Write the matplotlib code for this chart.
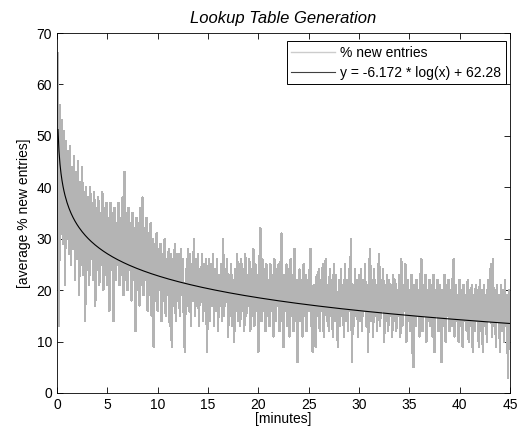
import numpy as np
import matplotlib
matplotlib.use("Agg")
import matplotlib.pyplot as plt

plt.rcParams['font.family'] = ['Liberation Sans', 'DejaVu Sans']

# sample times, one sample every 0.1 minute (6 s)
t_step = 0.1
# % new entries (one row = 3 minutes)
new_entries = [
    66, 13, 56, 31, 53, 29, 51, 21, 49, 30, 47, 27, 48, 25, 44, 28, 46, 22, 43, 26, 45, 19, 41, 25, 44, 23, 39, 14, 40, 24,
    38, 21, 40, 26, 37, 22, 39, 17, 36, 24, 38, 21, 35, 25, 39, 20, 36, 23, 37, 21, 34, 16, 37, 24, 35, 14, 36, 22, 33, 25,
    37, 21, 34, 23, 38, 19, 43, 22, 35, 20, 36, 24, 33, 18, 35, 22, 32, 12, 34, 20, 33, 17, 36, 21, 38, 19, 32, 22, 34, 16,
    31, 19, 33, 15, 30, 9, 29, 18, 31, 16, 28, 20, 29, 14, 27, 18, 30, 15, 26, 19, 28, 13, 27, 9, 26, 17, 29, 14, 27, 18,
    27, 15, 28, 19, 26, 14, 8, 24, 17, 28, 16, 27, 13, 25, 18, 30, 15, 26, 17, 27, 13, 24, 18, 27, 14, 25, 16, 26, 8, 22,
    26, 14, 25, 17, 27, 13, 24, 16, 26, 12, 23, 17, 25, 14, 30, 15, 24, 18, 26, 11, 23, 15, 25, 13, 22, 10, 24, 16, 27, 14,
    25, 13, 26, 16, 24, 12, 27, 15, 23, 17, 26, 12, 24, 15, 28, 13, 25, 16, 23, 8, 24, 32, 14, 26, 16, 24, 12, 25, 15, 22,
    13, 25, 16, 23, 11, 26, 14, 24, 17, 25, 12, 24, 31, 15, 9, 23, 16, 25, 13, 24, 11, 26, 15, 23, 12, 28, 14, 22, 6, 21,
    24, 14, 22, 11, 25, 15, 23, 12, 22, 16, 24, 28, 13, 8, 21, 14, 9, 23, 15, 24, 12, 22, 16, 25, 11, 23, 26, 14, 21, 12,
    24, 15, 22, 11, 25, 14, 23, 16, 9, 22, 13, 24, 15, 21, 11, 25, 14, 22, 12, 24, 16, 30, 6, 21, 13, 24, 15, 22, 11, 23,
    14, 24, 12, 22, 16, 25, 13, 21, 8, 23, 28, 14, 22, 11, 24, 15, 21, 12, 23, 27, 13, 22, 16, 24, 10, 21, 14, 23, 12, 22,
    15, 21, 11, 23, 14, 22, 12, 20, 15, 23, 11, 26, 13, 21, 16, 25, 10, 22, 14, 20, 12, 23, 9, 5, 21, 13, 22, 15, 20, 11,
    22, 26, 12, 21, 15, 23, 10, 20, 14, 22, 13, 21, 11, 23, 8, 20, 15, 22, 12, 21, 14, 6, 20, 13, 23, 10, 21, 15, 22, 12,
    20, 13, 22, 26, 11, 21, 14, 19, 10, 22, 13, 20, 9, 21, 14, 19, 12, 22, 10, 20, 13, 21, 8, 19, 12, 21, 14, 20, 9, 22,
    12, 20, 8, 21, 13, 19, 10, 22, 14, 20, 25, 11, 26, 13, 20, 9, 21, 14, 19, 8, 21, 12, 20, 10, 22, 13, 19, 3, 20, 12,
]
# fit from the legend: y = a * log(x) + b, x in seconds
fit_a = -6.172
fit_b = 62.28

minutes = t_step * np.arange(1, len(new_entries) + 1)
fit = fit_a * np.log(minutes * 60) + fit_b

fig = plt.figure(figsize=(5.21, 4.30), dpi=100)
ax = fig.add_axes([57 / 521, 37 / 430, 453 / 521, 360 / 430])

ax.plot(minutes, new_entries, color='#b4b4b4', lw=1.0, antialiased=False,
        label='% new entries')
ax.plot(minutes, fit, color='black', lw=0.8, label='y = -6.172 * log(x) + 62.28')

ax.set_xlim(0, 45)
ax.set_ylim(0, 70)
ax.set_xticks(np.arange(0, 46, 5))
ax.set_yticks(np.arange(0, 71, 10))
ax.tick_params(direction='in', top=True, right=True, length=4, width=0.6, labelsize=10)
for s in ax.spines.values():
    s.set_linewidth(0.6)

ax.set_title('Lookup Table Generation', fontsize=12, style='italic', pad=7)
ax.set_xlabel('[minutes]', fontsize=10, labelpad=0)
ax.set_ylabel('[average % new entries]', fontsize=10, labelpad=4)

leg = ax.legend(loc='upper right', bbox_to_anchor=(0.991, 0.978), fontsize=10,
                fancybox=False, framealpha=1, edgecolor='black', borderaxespad=0,
                handlelength=3.1, borderpad=0.35, labelspacing=0.42, handletextpad=0.4)
leg.get_frame().set_linewidth(0.7)
leg.get_lines()[0].set_color('#cccccc')
leg.get_lines()[1].set_color('#404040')

fig.savefig('out.png', dpi=100)
